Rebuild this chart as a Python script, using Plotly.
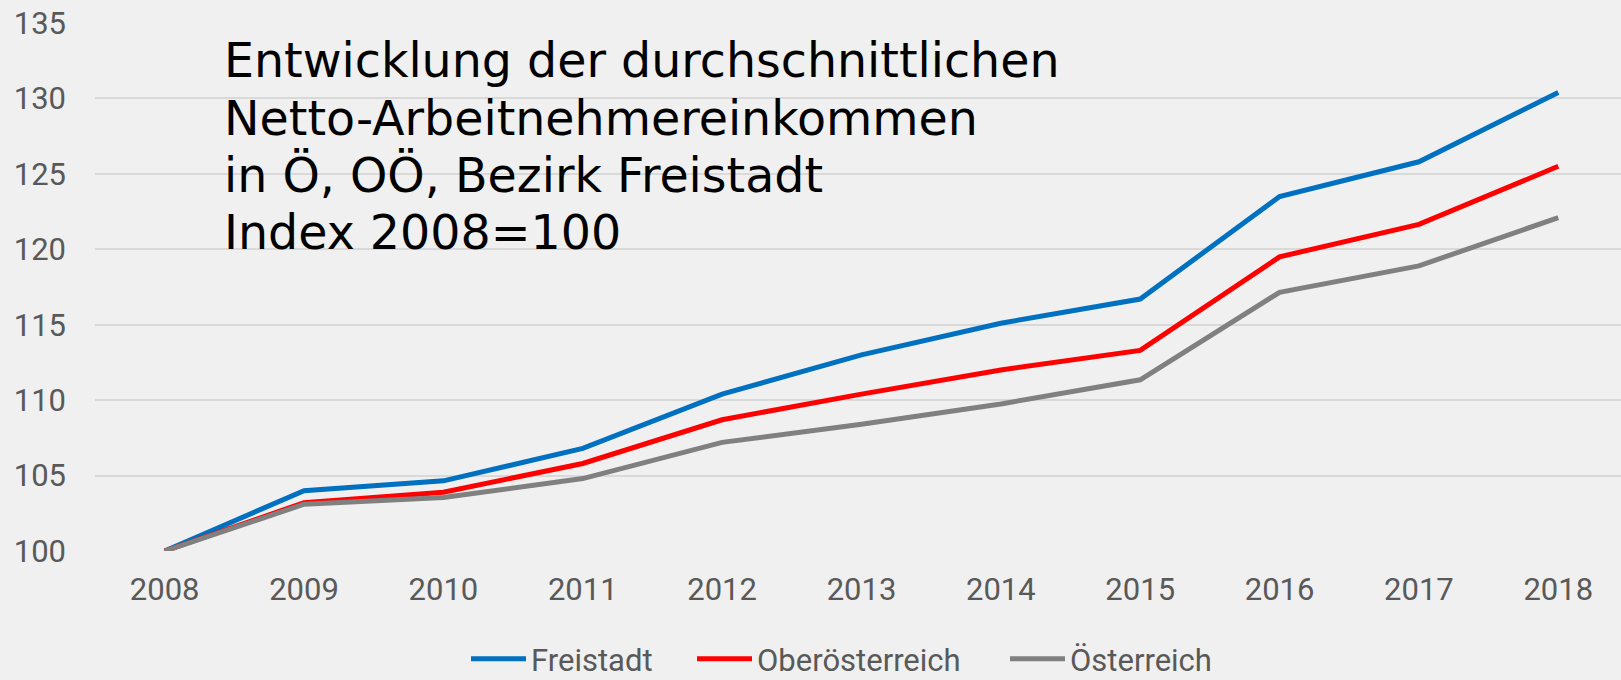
import plotly.graph_objects as go

years = ["2008", "2009", "2010", "2011", "2012", "2013", "2014", "2015", "2016", "2017", "2018"]
freistadt = [100, 104.0, 104.65, 106.8, 110.4, 113.0, 115.1, 116.7, 123.5, 125.8, 130.4]
oberoesterreich = [100, 103.2, 103.9, 105.8, 108.7, 110.4, 112.0, 113.3, 119.5, 121.65, 125.5]
oesterreich = [100, 103.1, 103.55, 104.8, 107.2, 108.4, 109.75, 111.35, 117.15, 118.9, 122.1]
series_names = ["Freistadt", "Oberösterreich", "Österreich"]
series_colors = ["#0070C0", "#FF0000", "#808080"]
y_ticks = [100, 105, 110, 115, 120, 125, 130, 135]
title_lines = [
    "Entwicklung der durchschnittlichen",
    "Netto-Arbeitnehmereinkommen",
    "in Ö, OÖ, Bezirk Freistadt",
    "Index 2008=100",
]

W, H = 1621, 680
ML, MR, MT, MB = 95, 0, 23, 129
PW = W - ML - MR
PH = H - MT - MB

def px_x(p):
    return (p - ML) / PW

def px_y(p):
    return (H - MB - p) / PH

tick_font = dict(family="Roboto, Liberation Sans, sans-serif", size=31, color="#595959")

fig = go.Figure()
legend_ids = ["legend", "legend2", "legend3"]
for vals, name, col, lg in zip([freistadt, oberoesterreich, oesterreich], series_names, series_colors, legend_ids):
    fig.add_trace(go.Scatter(
        x=years, y=vals, mode="lines", name=name,
        line=dict(color=col, width=5),
        legend=lg, hoverinfo="skip",
    ))

legend_x_px = [466, 692, 1005]
leg_common = dict(
    orientation="h", yanchor="middle", xanchor="left",
    bgcolor="rgba(0,0,0,0)", borderwidth=0, font=tick_font,
    itemwidth=55, tracegroupgap=0, xref="paper", yref="paper",
)
fig.update_layout(
    legend=dict(x=px_x(legend_x_px[0]), y=px_y(659), **leg_common),
    legend2=dict(x=px_x(legend_x_px[1]), y=px_y(659), **leg_common),
    legend3=dict(x=px_x(legend_x_px[2]), y=px_y(659), **leg_common),
)

baselines = [77, 135, 192, 249]
for line, b in zip(title_lines, baselines):
    fig.add_annotation(
        text=line, xref="paper", yref="paper",
        x=px_x(222), y=px_y(b - 16.6), xanchor="left", yanchor="middle",
        showarrow=False,
        font=dict(family="DejaVu Sans, Verdana, sans-serif", size=47.5, color="#000000"),
    )

fig.update_layout(
    width=W, height=H,
    margin=dict(l=ML, r=MR, t=MT, b=MB, autoexpand=False),
    paper_bgcolor="#F0F0F0", plot_bgcolor="#F0F0F0",
    showlegend=True,
    xaxis=dict(
        type="category", range=[-0.5, 10.45], showgrid=False, zeroline=False,
        showline=False, ticks="", tickfont=tick_font, ticklabelstandoff=17,
    ),
    yaxis=dict(
        range=[100, 135], tickvals=y_ticks, showgrid=True, gridcolor="#D9D9D9",
        gridwidth=2, zeroline=False, showline=False, ticks="", tickfont=tick_font,
        ticklabelstandoff=28,
    ),
)

fig.write_html(
    "out.html",
    config={"displayModeBar": False, "staticPlot": True},
    post_script="document.body.style.margin='0';document.body.style.overflow='hidden';document.body.style.background='#F0F0F0';",
)
